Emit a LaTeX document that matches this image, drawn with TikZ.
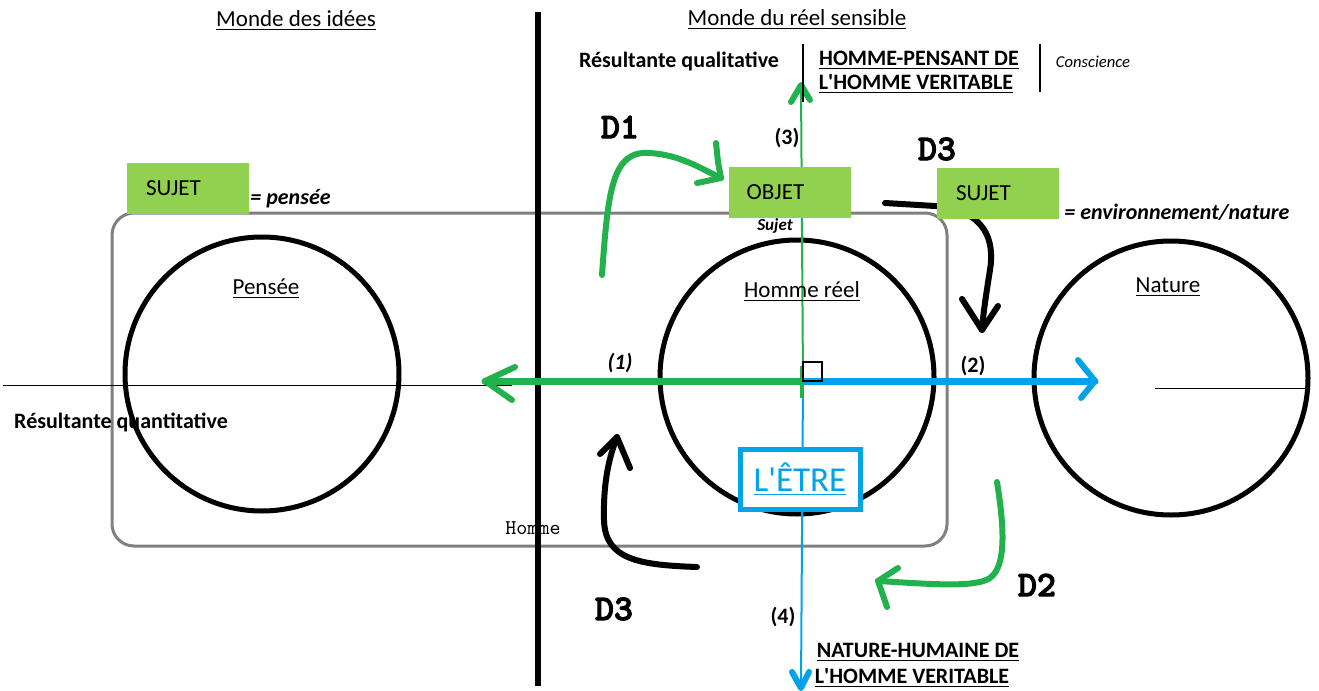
\documentclass[tikz,border=0pt]{standalone}
\usepackage{fontspec}
\setmainfont{Carlito}
\newfontfamily\dmono[FakeBold=3]{lmmonolt10-bold.otf}
\definecolor{pgreen}{HTML}{22B14C}
\definecolor{bgreen}{HTML}{92D050}
\definecolor{pblue}{HTML}{00A2E8}
\definecolor{lgray}{HTML}{808080}
\newcommand{\apos}{\textquotesingle}
\tikzset{
  txt/.style={inner sep=0pt, font=\fontsize{11.5}{13}\selectfont},
  btxt/.style={inner sep=0pt, font=\fontsize{11}{13}\selectfont\bfseries},
  bitxt/.style={inner sep=0pt, font=\fontsize{11}{13}\selectfont\bfseries\itshape},
  dtxt/.style={inner sep=0pt, font=\fontsize{18}{20}\selectfont\dmono},
  gbox/.style={fill=bgreen, inner sep=0pt, minimum width=61pt, minimum height=25.5pt, font=\fontsize{11.5}{13}\selectfont},
  ring/.style={circle, draw=black, line width=2.5pt, minimum size=137pt, inner sep=0pt},
  hand/.style={line width=3pt, line cap=round, line join=round},
  thick arrow/.style={line width=3.5pt, line cap=round, line join=round},
}
\begin{document}
\begin{tikzpicture}[x=0.5pt,y=-0.5pt]
\useasboundingbox (0,0) rectangle (1319,691);

% group box and circles
\node[draw=lgray, line width=1.5pt, rounded corners=11pt, minimum width=417.5pt, minimum height=166.5pt, inner sep=0pt] (hbox) at (529.5,379.5) {};
\node[ring] (cp) at (262,374) {};
\node[ring] (ch) at (797,377) {};
\node[ring] (cn) at (1171,378) {};

% thin horizontal lines
\coordinate (l1) at (3,385); \coordinate (l2) at (512,385);
\draw[line width=0.5pt] (l1) -- (l2);
\coordinate (r1) at (1155,388); \coordinate (r2) at (1308,388);
\draw[line width=0.5pt] (r1) -- (r2);

% main separator
\coordinate (s1) at (538,12); \coordinate (s2) at (538,686);
\draw[line width=3pt] (s1) -- (s2);

% axes
\coordinate (O) at (803,381);
\coordinate (gL) at (485,381);
\coordinate (bR) at (1095,381);
\coordinate (vT) at (801,85);
\coordinate (vB) at (801,688);
\coordinate (ul1) at (805,384); \coordinate (ul2) at (947,384);
\draw[line width=0.5pt] (ul1) -- (ul2);
\draw[pgreen, line width=1pt] (O) -- (vT);
\draw[pblue, line width=1pt] (O) -- (vB);
\draw[pgreen, thick arrow] (O) -- (gL);
\draw[pgreen, hand] (515,367) -- (gL) -- (512,400);
\draw[pblue, thick arrow] (O) -- (bR);
\draw[pblue, hand] (1078,360) -- (bR) -- (1081,398);
\draw[pgreen, hand] (791,102) -- (vT) -- (810,100);
\draw[pblue, hand] (792,672) -- (vB) -- (809,672);
\draw[pgreen, line width=2pt] (802,366) -- (802,398);
\node[draw=black, line width=0.6pt, minimum size=9.5pt, inner sep=0pt] (sq) at (812.5,371.5) {};

% top small separators
\coordinate (t1) at (803,44); \coordinate (t2) at (803,102);
\draw[line width=0.8pt] (t1) -- (t2);
\coordinate (t3) at (1040,44); \coordinate (t4) at (1040,92);
\draw[line width=0.8pt] (t3) -- (t4);

% hand-drawn arrows
\coordinate (d1s) at (602,275); \coordinate (d1e) at (721,178);
\draw[pgreen, hand] (d1s) .. controls (608,190) and (612,150) .. (650,153) .. controls (680,155) and (700,168) .. (d1e);
\draw[pgreen, hand] (716,143) -- (718,162) -- (d1e) -- (697,183);

\coordinate (d3s) at (885,203); \coordinate (d3e) at (982,330);
\draw[hand] (d3s) -- (935,206) .. controls (985,210) and (995,240) .. (990,270) .. controls (986,295) and (983,315) .. (d3e);
\draw[hand] (962,299) -- (d3e) -- (998,306);

\coordinate (d3bs) at (697,567); \coordinate (d3be) at (617,437);
\draw[hand] (d3bs) .. controls (640,565) and (605,560) .. (604,520) .. controls (603,480) and (610,455) .. (d3be);
\draw[hand] (600,454) -- (d3be) -- (630,468);

\coordinate (d2s) at (997,482); \coordinate (d2e) at (878,581);
\draw[pgreen, hand] (d2s) .. controls (1003,520) and (1008,565) .. (990,578) .. controls (975,588) and (930,584) .. (d2e);
\draw[pgreen, hand] (898,568) -- (d2e) -- (887,607);

% green boxes
\node[gbox] (suj1) at (187.5,188.5) {\hspace*{-14pt}SUJET};
\node[gbox] (obj) at (789.5,192.5) {\hspace*{-14pt}OBJET};
\node[gbox] (suj2) at (997.5,193) {\hspace*{-14pt}SUJET};
\node[inner sep=0pt, font=\fontsize{8.5}{10}\selectfont\bfseries\itshape] (sujh) at (775,226) {Sujet};

% L'ETRE box
\node[draw=pblue, fill=white, line width=2.5pt, minimum width=60pt, minimum height=30pt, inner sep=0pt, text=pblue, font=\fontsize{17.5}{19}\selectfont] (etre) at (800,479) {\underline{L\apos ÊTRE}};

% texts
\node[txt] (mi) at (296,21) {\underline{Monde des idées}};
\node[txt] (mr) at (797,20) {\underline{Monde du réel sensible}};
\node[btxt] (rq) at (679,61) {Résultante qualitative};
\node[btxt] (hp1) at (919,60) {\underline{HOMME-PENSANT DE}};
\node[btxt] (hp2) at (916,84) {\underline{L\apos HOMME VERITABLE}};
\node[inner sep=0pt, font=\fontsize{8.3}{10}\selectfont\itshape] (con) at (1093,62) {Conscience};
\node[btxt] (rqn) at (121,422) {Résultante quantitative};
\node[txt] (pen) at (266,289) {\underline{Pensée}};
\node[txt] (hr) at (802,292) {\underline{Homme réel}};
\node[txt] (nat) at (1168,287) {\underline{Nature}};
\node[bitxt, anchor=west] (egp) at (250,199) {= pensée};
\node[bitxt, anchor=west] (ege) at (1064,212) {= environnement/nature};
\node[bitxt] (n1) at (620,363) {(1)};
\node[btxt] (n2) at (973,366) {(2)};
\node[btxt] (n3) at (787,138) {(3)};
\node[btxt] (n4) at (783,617) {(4)};
\node[dtxt] (D1) at (620,127) {D1};
\node[dtxt] (D3a) at (937,149) {D3};
\node[dtxt] (D3b) at (614,609) {D3};
\node[dtxt] (D2) at (1037,585) {D2};
\node[inner sep=0pt, font=\fontsize{10.5}{12}\selectfont\ttfamily] (hom) at (533,528) {Homme};
\node[btxt] (nh1) at (918,652) {\underline{NATURE-HUMAINE DE}};
\node[btxt] (nh2) at (912,678) {\underline{L\apos HOMME VERITABLE}};
\end{tikzpicture}
\end{document}
